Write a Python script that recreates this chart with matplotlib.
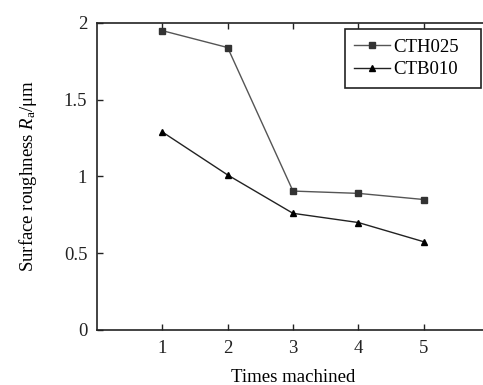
import matplotlib

matplotlib.use("Agg")
import matplotlib.pyplot as plt

times = [1, 2, 3, 4, 5]
cth025 = [1.95, 1.84, 0.905, 0.89, 0.85]
ctb010 = [1.29, 1.01, 0.76, 0.70, 0.575]
xtick_labels = ["1", "2", "3", "4", "5"]
ytick_vals = [0, 0.5, 1, 1.5, 2]
ytick_labels = ["0", "0.5", "1", "1.5", "2"]

plt.rcParams["font.family"] = ["Liberation Serif", "DejaVu Serif"]
plt.rcParams["mathtext.fontset"] = "custom"
plt.rcParams["mathtext.rm"] = "Liberation Serif"
plt.rcParams["mathtext.it"] = "Liberation Serif:italic"

fs = 13.5
fig = plt.figure(figsize=(4.83, 3.85), dpi=100)
# right spine sits just past the image edge in the original
ax = fig.add_axes([0.2008, 0.1429, 0.8116, 0.7974])

col = "#333333"
ax.plot(times, cth025, color="#555555", lw=1.0, marker="s", ms=4.5,
        mfc=col, mec=col, label="CTH025")
ax.plot(times, ctb010, color="#222222", lw=1.0, marker="^", ms=5,
        mfc="black", mec="black", label="CTB010")

ax.set_xlim(0, 6)
ax.set_ylim(0, 2)
ax.set_xticks(times)
ax.set_xticklabels(xtick_labels)
ax.set_yticks(ytick_vals)
ax.set_yticklabels(ytick_labels)
ax.tick_params(direction="in", top=True, right=True, labelsize=fs,
               length=4, width=1, pad=7, colors="#222222")
for s in ax.spines.values():
    s.set_linewidth(1.2)
    s.set_color("#222222")

ax.set_xlabel("Times machined", fontsize=fs, labelpad=9)
ax.set_ylabel(r"Surface roughness $\mathit{R}_\mathrm{a}$/μm", fontsize=fs, labelpad=18)

leg = ax.legend(loc="upper left", bbox_to_anchor=(0.633, 0.801, 0.347, 0.179),
                mode="expand", borderaxespad=0, fontsize=fs, handlelength=1.9,
                handletextpad=0.15, borderpad=0.5, labelspacing=0.3,
                fancybox=False, framealpha=1)
leg.get_frame().set_edgecolor("#222222")
leg.get_frame().set_linewidth(1.2)

fig.savefig("out.png", dpi=100)
